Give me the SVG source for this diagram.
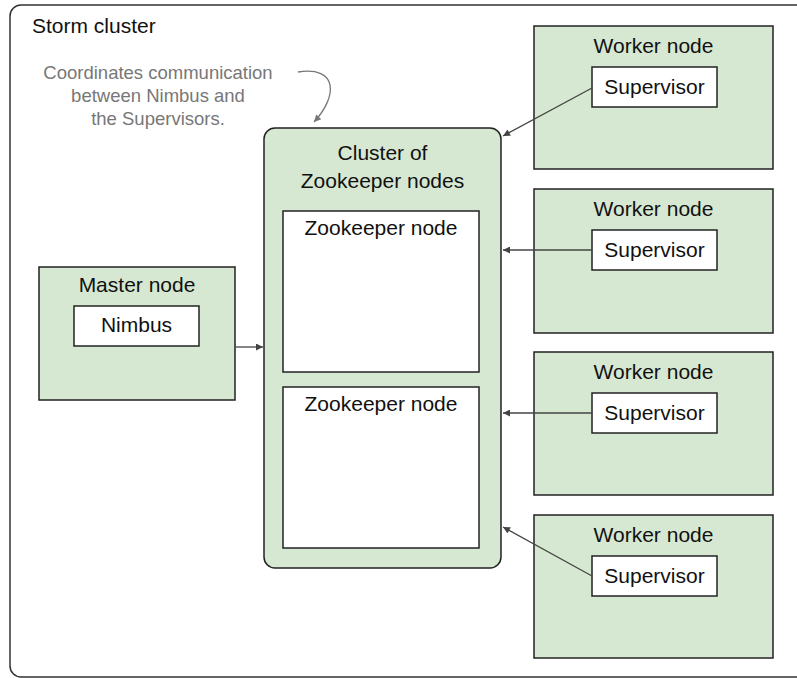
<svg xmlns="http://www.w3.org/2000/svg" width="797" height="678" viewBox="0 0 797 678">
<style>
text{font-family:"Liberation Sans",Arial,sans-serif;font-size:21px;fill:#111;text-anchor:middle}
.green{fill:#d6e8d1;stroke:#222;stroke-width:1.5}
.white{fill:#fff;stroke:#222;stroke-width:1.5}
.note{fill:#777;font-size:18.5px}
.conn{stroke:#444;stroke-width:1.3;fill:none}
</style>
<defs>
<marker id="ah" viewBox="0 0 10 10" refX="10" refY="5" markerWidth="9" markerHeight="7" markerUnits="userSpaceOnUse" orient="auto">
<path d="M0,0L10,5L0,10z" fill="#444"/>
</marker>
<marker id="ahg" viewBox="0 0 10 10" refX="10" refY="5" markerWidth="9" markerHeight="7" markerUnits="userSpaceOnUse" orient="auto">
<path d="M0,0L10,5L0,10z" fill="#777"/>
</marker>
</defs>
<g id="storm-cluster">
<rect x="10" y="5" width="810" height="672" rx="11" fill="#fff" stroke="#333" stroke-width="1.5"/>
<text x="32" y="33" style="text-anchor:start">Storm cluster</text>
</g>
<g id="note">
<text class="note" x="158" y="79">Coordinates communication</text>
<text class="note" x="158" y="102">between Nimbus and</text>
<text class="note" x="158" y="125">the Supervisors.</text>
</g>
<g id="master-node">
<rect class="green" x="39" y="267" width="196" height="133"/>
<text x="137" y="292">Master node</text>
<rect class="white" x="74" y="306" width="125" height="40"/>
<text x="136.5" y="332">Nimbus</text>
</g>
<g id="zookeeper-cluster">
<rect class="green" x="264" y="128" width="237" height="440" rx="11"/>
<text x="382.5" y="160">Cluster of</text>
<text x="382.5" y="188">Zookeeper nodes</text>
</g>
<g id="zookeeper-node-1">
<rect class="white" x="283" y="211" width="196" height="161"/>
<text x="381" y="235">Zookeeper node</text>
</g>
<g id="zookeeper-node-2">
<rect class="white" x="283" y="387" width="196" height="161"/>
<text x="381" y="411">Zookeeper node</text>
</g>
<g id="worker-node-1">
<rect class="green" x="534" y="26" width="239" height="143"/>
<text x="653.5" y="53">Worker node</text>
<rect class="white" x="592" y="67" width="125" height="40"/>
<text x="654.5" y="94">Supervisor</text>
</g>
<g id="worker-node-2">
<rect class="green" x="534" y="189" width="239" height="144"/>
<text x="653.5" y="216">Worker node</text>
<rect class="white" x="592" y="230" width="125" height="40"/>
<text x="654.5" y="257">Supervisor</text>
</g>
<g id="worker-node-3">
<rect class="green" x="534" y="352" width="239" height="143"/>
<text x="653.5" y="379">Worker node</text>
<rect class="white" x="592" y="393" width="125" height="40"/>
<text x="654.5" y="420">Supervisor</text>
</g>
<g id="worker-node-4">
<rect class="green" x="534" y="515" width="239" height="143"/>
<text x="653.5" y="542">Worker node</text>
<rect class="white" x="592" y="556" width="125" height="40"/>
<text x="654.5" y="583">Supervisor</text>
</g>
<g id="connectors">
<path class="conn" d="M235,347H263" marker-end="url(#ah)"/>
<path class="conn" d="M592,88L503,136" marker-end="url(#ah)"/>
<path class="conn" d="M592,250H503" marker-end="url(#ah)"/>
<path class="conn" d="M592,413H503" marker-end="url(#ah)"/>
<path class="conn" d="M592,576L503,527" marker-end="url(#ah)"/>
<path d="M298,72C338,66 338,96 314,122" fill="none" stroke="#777" stroke-width="1.3" marker-end="url(#ahg)"/>
</g>
</svg>
